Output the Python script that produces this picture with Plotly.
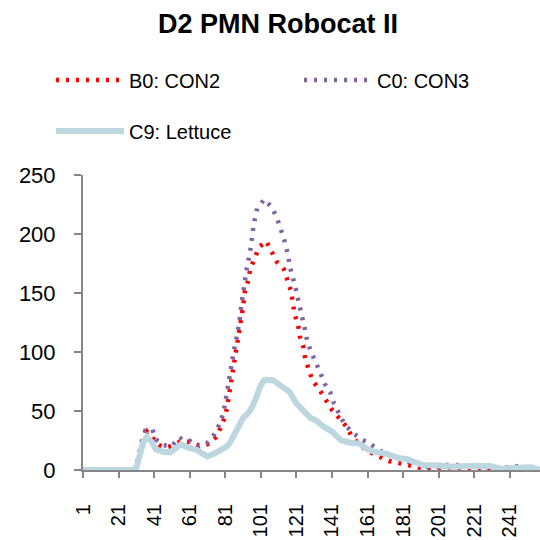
import plotly.graph_objects as go

# ---- data ----
con2_x = [1, 30, 32, 34, 37, 40, 42, 45, 48, 51, 54, 57, 60, 63, 66, 69, 71, 74, 76, 79, 81, 82, 83, 84,
          85, 86, 87, 88, 89, 90, 91, 92, 94, 95, 98, 100, 104, 107, 110, 114, 116, 118, 119, 120, 122,
          123, 125, 126, 128, 130, 134, 137, 141, 145, 149, 152, 156, 161, 167, 173, 179, 185, 190, 196,
          205, 215, 229, 240, 250, 258]
con2_y = [0, 0, 8, 22, 32.5, 28, 23, 20, 19.2, 20.5, 23, 24.5, 24, 23, 21, 20.5, 21.7, 25, 28, 38, 46, 53, 62, 72,
          82, 91, 101, 110, 118, 128, 138, 151, 161, 170, 180, 188.7, 194, 185, 176.5, 170, 161, 151.4, 141.8, 132.2, 122.6,
          113, 103.7, 94, 85, 76, 68, 60, 51, 44, 37, 29, 22, 16, 11.5, 7.6, 5.8, 3.6, 2, 1,
          1.5, 1.5, 1.5, 1, 1, 0.5]

con3_x = [1, 30, 32, 34, 36, 40, 42, 46, 51, 55, 58, 61, 66, 71, 75, 78, 80, 81, 82, 83, 84, 85, 86, 87, 88,
          89, 90, 91, 92, 93, 95, 96, 97, 99, 103, 107, 110, 112, 114, 116, 117, 118, 120, 122, 123, 124, 126,
          127, 129, 132, 134, 137, 140, 142, 145, 148, 152, 157, 162, 168, 172, 177, 184, 191, 196, 202, 209,
          215, 222, 230, 238, 246, 252, 258]
con3_y = [0, 0, 10, 24, 33.3, 34.4, 26, 21, 20.3, 27.7, 25, 24.8, 19.8, 23.1, 30.5, 39.5, 48.6, 58.5, 67.8, 74, 84, 93, 102, 109, 116,
          126, 139, 151, 160, 170, 185, 199, 208, 222, 229.4, 223, 214, 205, 196, 184, 176, 168, 158, 146, 139, 131, 118,
          110, 101, 92, 84, 73, 66, 57, 48, 39, 32.5, 26.5, 22.6, 16.4, 13.5, 10, 7, 5.6, 1.4, 3, 5.1,
          3, 3.4, 2, 2, 3.4, 1.5, 0.5]

lettuce_x = [1, 29, 31, 33, 35, 37, 40, 42, 46, 50, 53, 56, 60, 65, 68, 71, 75, 79, 82, 84, 87, 89, 91, 94, 96,
             98, 101, 103, 108, 113, 117, 121, 125, 129, 132, 136, 141, 146, 151, 156, 161, 166, 171, 175, 179,
             183, 188, 192, 200, 208, 217, 224, 230, 236, 245, 253, 258]
lettuce_y = [0, 0, 2, 14, 24, 28.2, 23, 17.5, 15.5, 15, 18.4, 21.7, 19.2, 17, 14, 11.5, 14, 17, 20, 24, 33, 39.5, 44, 48.5, 53,
             60, 72, 76.3, 76, 70.5, 66.5, 56.5, 49.4, 44, 42, 37, 32.5, 25.4, 23.1, 22.6, 17.5, 15, 14.1, 11.9, 9.9,
             9.3, 7.1, 4.2, 4, 2.8, 3.4, 2.8, 3.4, 1.1, 1.1, 2.3, 0]

tick_vals = [1, 21, 41, 61, 81, 101, 121, 141, 161, 181, 201, 221, 241]
tick_text = [str(v) for v in tick_vals]

FONT = "Liberation Sans, Arial, sans-serif"
AXIS = "#868686"
DOT = "3px,7px"

fig = go.Figure()
fig.add_trace(go.Scatter(x=con2_x, y=con2_y, mode="lines", name="B0: CON2",
                         line=dict(color="#FF0000", width=4.5, dash=DOT), legend="legend"))
fig.add_trace(go.Scatter(x=con3_x, y=con3_y, mode="lines", name="C0: CON3",
                         line=dict(color="#8064A2", width=4.5, dash=DOT), legend="legend3"))
fig.add_trace(go.Scatter(x=lettuce_x, y=lettuce_y, mode="lines", name="C9: Lettuce",
                         line=dict(color="#BDD7E0", width=6), legend="legend2"))

PLOT_W = 540 - 83
PLOT_H = 540 - 175 - 70


def leg(x_px, y_px):
    return dict(orientation="h", x=(x_px - 83) / PLOT_W, xanchor="left",
                y=1 + (175 - y_px) / PLOT_H, yanchor="middle", yref="paper",
                font=dict(size=20, family=FONT, color="black"), itemwidth=68,
                bgcolor="rgba(0,0,0,0)", borderwidth=0)


fig.update_layout(
    width=540, height=540,
    margin=dict(l=83, r=0, t=175, b=70, autoexpand=False),
    paper_bgcolor="white", plot_bgcolor="white",
    font=dict(family=FONT, color="black"),
    title=dict(text="<b>D2 PMN Robocat II</b>", font=dict(size=27, family=FONT, color="black"),
               x=278/540, xanchor="center", xref="container",
               y=1 - 24/540, yanchor="middle", yref="container"),
    legend=leg(51, 80),
    legend3=leg(299, 80),
    legend2=leg(51, 131),
    showlegend=True,
)
fig.update_xaxes(range=[1, 258], tickmode="array", tickvals=tick_vals, ticktext=tick_text,
                 tickangle=-90, tickfont=dict(size=20, family=FONT), ticks="outside", ticklen=6,
                 tickcolor=AXIS, tickwidth=1.5, showline=True, linecolor=AXIS, linewidth=2,
                 showgrid=False, zeroline=False, ticklabelstandoff=18, automargin=False)
fig.update_yaxes(range=[0, 250], dtick=50, tickfont=dict(size=22, family=FONT), ticks="outside",
                 ticklen=7, tickcolor=AXIS, tickwidth=1.5, showline=True, linecolor=AXIS, linewidth=2,
                 showgrid=False, zeroline=False, ticklabelstandoff=14, automargin=False)

fig.write_html("out.html", config={"displayModeBar": False},
               post_script="document.body.style.margin='0';")
